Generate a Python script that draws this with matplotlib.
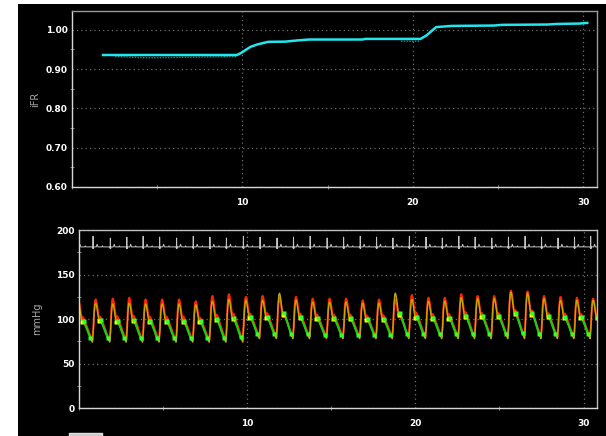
import numpy as np
import matplotlib
matplotlib.use("Agg")
import matplotlib.pyplot as plt
from matplotlib.patches import Rectangle
from matplotlib.ticker import MultipleLocator, FormatStrFormatter

# iFR trend (top panel)
ifr_t = [1.75, 9.68, 9.91, 10.48, 10.88, 11.5, 12.5, 13.2, 13.9, 17.05, 17.2, 20.45,
         20.8, 21.36, 22.27, 24.76, 25.2, 27.9, 28.4, 29.75, 30.3]
ifr_v = [0.936, 0.936, 0.941, 0.957, 0.963, 0.9695, 0.970, 0.973, 0.9754, 0.9754, 0.977, 0.977,
         0.986, 1.007, 1.010, 1.011, 1.0127, 1.0136, 1.015, 1.016, 1.018]
ifr_raw_t = [2.54, 4.3, 4.8, 9.68, np.nan, 19.3, 20.45]
ifr_raw_v = [0.932, 0.929, 0.929, 0.932, np.nan, 0.971, 0.971]

# beat table (bottom panel), one entry per heartbeat
beat_peak_t = [-0.03, 0.99, 2.02, 3.00, 3.97, 4.95, 5.96, 6.95, 7.94, 8.92, 9.93, 10.92,
               11.93, 12.91, 13.90, 14.91, 15.89, 16.88, 17.85, 18.82, 19.80, 20.79, 21.76,
               22.74, 23.71, 24.70, 25.69, 26.68, 27.66, 28.64, 29.62, 30.58]
pa_sys = [121, 122, 123, 124, 122, 122, 122, 120, 126, 128, 125, 126, 124, 125, 123, 123,
          123, 121, 122, 122, 127, 124, 124, 128, 126, 126, 132, 131, 126, 125, 124, 123]
pd_sys = [117, 118, 117, 118, 117, 117, 117, 116, 120, 122, 121, 121, 129, 121, 119, 119,
          119, 118, 118, 129, 122, 120, 120, 124, 123, 123, 130, 129, 123, 121, 121, 121]
pa_dia = [76] * 10 + [80] * 22
pd_dia = [74] * 10 + [78] * 22
ecg_r = [192, 193, 191, 192, 193, 192, 191, 193, 192, 191, 193, 192, 191, 192, 193, 191,
         192, 193, 192, 191, 193, 192, 191, 193, 192, 191, 192, 193, 192, 191, 192, 193]
ecg_base = 181

# one beat: 0 = end diastole, 1 = systolic peak
shape_phase = [0.00, 0.05, 0.10, 0.15, 0.19, 0.24, 0.30, 0.36, 0.40, 0.44, 0.48, 0.58,
               0.68, 0.78, 0.88, 0.95, 1.00]
shape_level = [0.00, 0.30, 0.75, 0.97, 1.00, 0.93, 0.76, 0.58, 0.53, 0.58, 0.56, 0.45,
               0.34, 0.22, 0.11, 0.04, 0.00]
ecg_phase = [0.00, 0.02, 0.035, 0.05, 0.07, 0.22, 0.27, 0.32, 0.55, 0.58, 0.61, 1.00]
ecg_level = [0.0, -1.5, 1.0, -2.0, 0.0, 0.0, 3.0, 0.0, 0.0, 1.2, 0.0, 0.0]

PEAK_PHASE = 0.19
WFP = (10, 14)    # indices into shape_phase for the wave-free period
NOTCH = 8


def build_traces():
    onsets = np.array(beat_peak_t) - PEAK_PHASE
    periods = np.append(np.diff(onsets), 0.98)
    ph = np.array(shape_phase)
    lv = np.array(shape_level)
    eph = np.array(ecg_phase)
    elv = np.array(ecg_level)
    pa_t, pa_y, pd_y, ecg_t, ecg_y = [], [], [], [], []
    green, notch_pts, wfp_pts = [], [], []
    for i, (t0, T) in enumerate(zip(onsets, periods)):
        t = t0 + ph * T
        pa = pa_dia[i] + lv * (pa_sys[i] - pa_dia[i])
        pd = pd_dia[i] + lv * (pd_sys[i] - pd_dia[i])
        pa_t.append(t); pa_y.append(pa); pd_y.append(pd)
        green.append((t[WFP[0]:WFP[1] + 1], pd[WFP[0]:WFP[1] + 1]))
        notch_pts.append((t[NOTCH], pd[NOTCH]))
        wfp_pts.append((t[WFP[0]], pd[WFP[0]]))
        wfp_pts.append((t[WFP[1]], pd[WFP[1]]))
        e = ecg_base + elv.copy()
        e[2] = ecg_r[i]
        ecg_t.append(t0 + eph * T); ecg_y.append(e)
    return (np.concatenate(pa_t), np.concatenate(pa_y), np.concatenate(pd_y),
            np.concatenate(ecg_t), np.concatenate(ecg_y), green,
            np.array(notch_pts), np.array(wfp_pts))


def style_axes(ax, edge_dim):
    ax.set_facecolor("black")
    for side in ("left", "bottom"):
        ax.spines[side].set_color("#d8d8d8")
    for side in ("top", "right"):
        ax.spines[side].set_color(edge_dim)
    for s in ax.spines.values():
        s.set_linewidth(1.0)
    ax.tick_params(which="major", length=0, colors="white", labelsize=6.5)
    ax.tick_params(which="minor", length=3, direction="inout", color="#909090")
    ax.tick_params(axis="x", which="major", pad=8)
    ax.tick_params(axis="y", which="major", pad=3)
    for lab in ax.get_xticklabels() + ax.get_yticklabels():
        lab.set_fontweight("bold")
    ax.grid(True, which="major", color="#6e6e6e", linestyle=(0, (1, 2.5)), linewidth=0.9)


fig = plt.figure(figsize=(6.06, 4.36), dpi=100, facecolor="white")
fig.patches.append(Rectangle((18 / 606, 0), 1, 432 / 436, transform=fig.transFigure,
                             facecolor="black", edgecolor="none", zorder=-10))
fig.patches.append(Rectangle((69 / 606, 0), 33 / 606, 3 / 436, transform=fig.transFigure,
                             facecolor="#c8c8c8", edgecolor="#e0e0e0", zorder=-5))

# top: iFR
ax1 = fig.add_axes([72 / 606, 1 - 187 / 436, 525 / 606, 176 / 436])
ax1.plot(ifr_raw_t, ifr_raw_v, color="#009a9a", lw=1.0, linestyle=(0, (1, 1)))
ax1.plot(ifr_t, ifr_v, color="#22e6ee", lw=1.8, solid_capstyle="butt")
ax1.set_xlim(0, 30.8)
ax1.set_ylim(0.60, 1.048)
ax1.xaxis.set_minor_locator(MultipleLocator(5))
ax1.yaxis.set_major_locator(MultipleLocator(0.1))
ax1.yaxis.set_minor_locator(MultipleLocator(0.05))
ax1.yaxis.set_major_formatter(FormatStrFormatter("%.2f"))
ax1.set_xticks([10, 20, 30])
style_axes(ax1, "#9a9a9a")
ax1.set_ylabel("iFR", color="#a8a8a8", fontsize=7)
ax1.yaxis.set_label_coords(-0.060, 0.5)

# bottom: pressures + ECG
ax2 = fig.add_axes([79 / 606, 1 - 408 / 436, 518 / 606, 178 / 436])
pa_t, pa_y, pd_y, ecg_t, ecg_y, green, notch_pts, wfp_pts = build_traces()
ax2.plot(ecg_t, ecg_y, color="#c4c4c4", lw=0.7)
ax2.plot(pa_t, pa_y, color="#ff2200", lw=1.4)
ax2.plot(pa_t, pd_y, color="#c8a400", lw=1.0)
for gt, gy in green:
    ax2.plot(gt, gy, color="#14d014", lw=1.5)
ax2.plot(notch_pts[:, 0], notch_pts[:, 1], "s", color="#ffff00", ms=2.6, mec="none")
ax2.plot(wfp_pts[:, 0], wfp_pts[:, 1], "s", color="#30ff30", ms=2.4, mec="none")
ax2.set_xlim(0, 30.8)
ax2.set_ylim(0, 200)
ax2.set_xticks([10, 20, 30])
ax2.xaxis.set_minor_locator(MultipleLocator(5))
ax2.yaxis.set_major_locator(MultipleLocator(50))
ax2.yaxis.set_minor_locator(MultipleLocator(25))
style_axes(ax2, "#bdbdbd")
ax2.set_ylabel("mmHg", color="#a8a8a8", fontsize=7)
ax2.yaxis.set_label_coords(-0.072, 0.5)

fig.savefig("out.png", dpi=100, facecolor="white")
